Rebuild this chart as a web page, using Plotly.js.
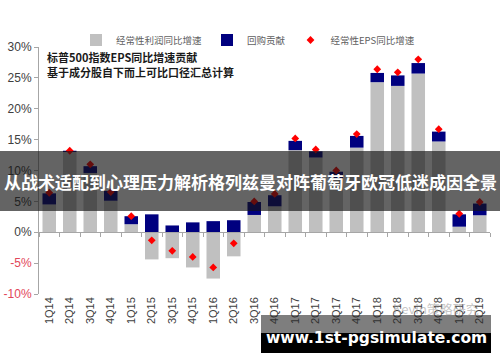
<!DOCTYPE html>
<html>
<head>
<meta charset="utf-8">
<script src="https://cdn.plot.ly/plotly-3.0.1.min.js"></script>
<style>html,body{margin:0;padding:0;background:#fff;}#chart{width:500px;height:362px;}</style>
</head>
<body>
<div id="chart"></div>
<script>
const categories = ['1Q14','2Q14','3Q14','4Q14','1Q15','2Q15','3Q15','4Q15','1Q16','2Q16','3Q16','4Q16','1Q17','2Q17','3Q17','4Q17','1Q18','2Q18','3Q18','4Q18','1Q19','2Q19'];
const profitGrowth = [4.5, 13.0, 9.6, 5.1, 1.3, -4.4, -4.2, -5.7, -7.5, -3.9, 2.8, 4.2, 13.3, 12.1, 8.7, 13.7, 24.3, 23.7, 25.7, 14.7, 0.9, 2.75];
const buybackContribution = [1.8, 0.2, 1.1, 1.6, 1.3, 2.9, 1.1, 1.6, 1.8, 1.95, 2.1, 1.8, 1.5, 1.0, 1.1, 1.9, 1.5, 1.7, 1.7, 1.6, 2.0, 1.9];
const epsGrowth = [6.4, 13.2, 11.0, 6.5, 2.6, -1.3, -3.0, -4.0, -5.7, -1.8, 5.0, 6.2, 15.2, 13.4, 10.0, 15.9, 26.4, 25.9, 28.0, 16.7, 3.0, 4.9];
const yTickValues = [-10, -5, 0, 5, 10, 15, 20, 25, 30];
const seriesNames = ['经常性利润同比增速', '回购贡献', '经常性EPS同比增速'];

const yTickText = yTickValues.map(v => v < 0 ? '<span style="color:#e2475a">' + v + '%</span>' : v + '%');

const cjk = '"Noto Sans CJK SC", "Noto Sans", sans-serif';

const traces = [
  {type:'bar', name:seriesNames[0], x:categories, y:profitGrowth, marker:{color:'#c0c0c0'}, xaxis:'x', yaxis:'y'},
  {type:'bar', name:seriesNames[1], x:categories, y:buybackContribution, marker:{color:'#00007f'}, xaxis:'x', yaxis:'y'},
  {type:'scatter', mode:'markers', name:seriesNames[2], x:categories, y:epsGrowth,
   marker:{symbol:'diamond', color:'#ff0000', size:6}, xaxis:'x2', yaxis:'y'}
];

const L = 39, R = 10, T = 47, B = 68, W = 500, H = 362;
const pw = W - L - R, ph = H - T - B;
const px = v => (v - L) / pw;
const py = v => (H - B - v) / ph;

const layout = {
  width: W, height: H,
  margin: {l:L, r:R, t:T, b:B, pad:0},
  paper_bgcolor:'#ffffff', plot_bgcolor:'#ffffff',
  barmode:'relative', bargap:0.34,
  showlegend:true,
  legend:{orientation:'h', x:px(76), xanchor:'left', y:py(40), yanchor:'middle',
          font:{family:cjk, size:9.5, color:'#606060'}, traceorder:'normal', bgcolor:'rgba(0,0,0,0)'},
  xaxis:{type:'category', categoryorder:'array', categoryarray:categories, range:[-0.5, 21.5],
         anchor:'free', position:0.25, showline:true, linecolor:'#a6a6a6', linewidth:1,
         ticks:'outside', tickson:'boundaries', ticklen:4, tickcolor:'#a6a6a6',
         showticklabels:false, showgrid:false, zeroline:false, fixedrange:true},
  xaxis2:{type:'category', categoryorder:'array', categoryarray:categories, range:[-0.5, 21.5],
          overlaying:'x', anchor:'y', side:'bottom', showline:false, ticks:'', tickangle:-90,
          tickfont:{family:'"Liberation Sans", Arial, sans-serif', size:11, color:'#404040'},
          showgrid:false, zeroline:false},
  yaxis:{range:[-10, 30], tickmode:'array', tickvals:yTickValues, ticktext:yTickText,
         showline:true, linecolor:'#a6a6a6', linewidth:1, ticks:'outside', ticklen:4, tickcolor:'#a6a6a6',
         tickfont:{family:'"Liberation Sans", Arial, sans-serif', size:12, color:'#404040'},
         showgrid:false, zeroline:false},
  shapes:[
    {type:'rect', xref:'paper', yref:'paper', x0:px(0), x1:px(500), y0:py(211), y1:py(151),
     fillcolor:'rgba(20,20,20,0.66)', line:{width:0}, layer:'above'},
    {type:'rect', xref:'paper', yref:'paper', x0:px(261), x1:px(491), y0:py(333), y1:py(315),
     fillcolor:'rgba(40,40,40,0.6)', line:{width:0}, layer:'above'},
    {type:'rect', xref:'paper', yref:'paper', x0:px(261), x1:px(491), y0:py(353), y1:py(333),
     fillcolor:'#000000', line:{width:0}, layer:'above'}
  ],
  annotations:[
    {xref:'paper', yref:'paper', x:px(45), y:py(57), xanchor:'left', yanchor:'middle', showarrow:false,
     text:'<b>标普500指数EPS同比增速贡献</b>', font:{family:cjk, size:11, color:'#1a1a1a'}},
    {xref:'paper', yref:'paper', x:px(45), y:py(72), xanchor:'left', yanchor:'middle', showarrow:false,
     text:'<b>基于成分股自下而上可比口径汇总计算</b>', font:{family:cjk, size:11, color:'#1a1a1a'}},
    {xref:'paper', yref:'paper', x:px(436), y:py(308), xanchor:'center', yanchor:'middle', showarrow:false,
     text:'Kevin策略研究', font:{family:cjk, size:13, color:'rgba(150,150,150,0.55)'}},
    {xref:'paper', yref:'paper', x:px(250), y:py(182), xanchor:'center', yanchor:'middle', showarrow:false,
     text:'<b>从战术适配到心理压力解析格列兹曼对阵葡萄牙欧冠低迷成因全景</b>', font:{family:cjk, size:17, color:'#ffffff'}},
    {xref:'paper', yref:'paper', x:px(376), y:py(338), xanchor:'center', yanchor:'middle', showarrow:false,
     text:'<b>www.1st-pgsimulate.com</b>', font:{family:'"DejaVu Sans", sans-serif', size:15.5, color:'#ffffff'}}
  ]
};

Plotly.newPlot('chart', traces, layout, {displayModeBar:false, staticPlot:true});
</script>
</body>
</html>
